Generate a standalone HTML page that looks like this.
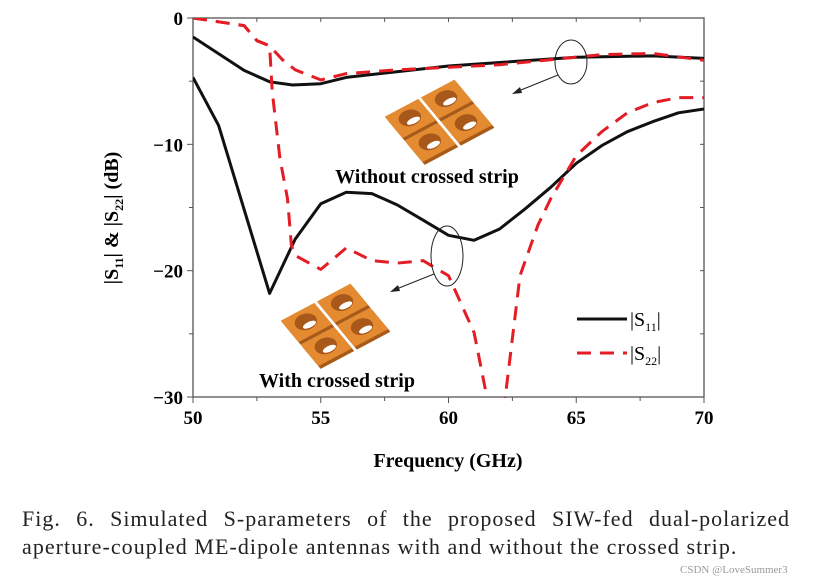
<!DOCTYPE html>
<html><head><meta charset="utf-8">
<style>
body{margin:0;background:#fff;width:813px;height:582px;overflow:hidden;font-family:"Liberation Serif",serif;position:relative}
svg text{font-family:"Liberation Serif",serif}
.cap{position:absolute;left:22px;width:768px;font-size:22px;letter-spacing:1px;line-height:28px;text-align:justify;text-align-last:justify;color:#222;white-space:nowrap}
</style></head>
<body>
<svg width="813" height="582" viewBox="0 0 813 582" style="position:absolute;left:0;top:0">
<defs><clipPath id="plotclip"><rect x="193" y="18" width="511" height="380"/></clipPath>
<g id="tile">
<rect x="0" y="4" width="38" height="32" fill="#a85a18"/>
<rect x="0" y="0" width="38" height="32" fill="#e48a30"/>
<ellipse cx="19" cy="15" rx="11" ry="10" fill="#a8581a"/>
<ellipse cx="20" cy="20" rx="7" ry="3.5" fill="#fff"/>
</g></defs>
<g id="plot"></g>
<text x="680" y="573" font-size="11" fill="#999" font-family="Liberation Sans">CSDN @LoveSummer3</text>
</svg>
<div class="cap" style="top:505px">Fig. 6. Simulated S-parameters of the proposed SIW-fed dual-polarized</div>
<div class="cap" style="top:533px;text-align-last:left;letter-spacing:1.05px">aperture-coupled ME-dipole antennas with and without the crossed strip.</div>
<script>
const s11WithoutF=[50,52,53,53.9,55,56,60,65,68,70];
const s11WithoutV=[-1.5,-4.15,-5.05,-5.3,-5.2,-4.7,-3.8,-3.1,-3.0,-3.2];
const s11WithF=[50,51,53,54,55,56,57,58,59,60,61,62,63,64,65,66,67,68,69,70];
const s11WithV=[-4.7,-8.5,-21.8,-17.5,-14.7,-13.8,-13.9,-14.8,-16.0,-17.2,-17.6,-16.7,-15.1,-13.4,-11.5,-10.1,-9.0,-8.2,-7.5,-7.2];
const s22WithoutF=[50,51,52,52.5,53,53.5,54,55,56,58,60,62,64,66,68,70];
const s22WithoutV=[0,-0.3,-0.6,-1.8,-2.2,-3.3,-4.1,-4.9,-4.4,-4.1,-3.9,-3.7,-3.3,-2.9,-2.8,-3.35];
const s22WithF=[50,51,52,52.5,53,53.1,53.4,53.7,53.85,54,55,56,57,58,59,60,61,61.7,62.1,62.8,63.5,64,65,66,67,68,69,70];
const s22WithV=[0,-0.3,-0.6,-1.8,-2.2,-5.8,-11.1,-14.3,-18,-18.8,-19.9,-18.2,-19.2,-19.4,-19.2,-20.4,-24.9,-32,-32,-20.4,-16.4,-14.3,-10.9,-9.0,-7.5,-6.7,-6.3,-6.3];
const xTicks=[50,55,60,65,70];
const yTicks=[0,-10,-20,-30];
const NS='http://www.w3.org/2000/svg';
const X0=193,X1=704,Y0=18,Y1=397;
const xs=f=>X0+(f-50)/20*(X1-X0);
const ys=v=>Y0+(-v)/30*(Y1-Y0);
const g=document.getElementById('plot');
function mk(t,a,p){const e=document.createElementNS(NS,t);for(const k in a)e.setAttribute(k,a[k]);(p||g).appendChild(e);return e;}
const fr=mk('rect',{x:X0,y:Y0,width:X1-X0,height:Y1-Y0,fill:'none',stroke:'#555','stroke-width':1.3});


for(let f=50;f<=70;f+=2.5){const maj=f%5===0;
 const t=mk('line',{x1:xs(f),x2:xs(f),y1:Y1,y2:Y1+(maj?6:4),stroke:'#555'});
 
 
 mk('line',{x1:xs(f),x2:xs(f),y1:Y0,y2:Y0+4,stroke:'#555'});}
for(let v=0;v>=-30;v-=5){const maj=v%10===0;
 const t=mk('line',{x1:X0-(maj?6:4),x2:X0,y1:ys(v),y2:ys(v),stroke:'#555'});
 
 
 mk('line',{x1:X1-4,x2:X1,y1:ys(v),y2:ys(v),stroke:'#555'});}
xTicks.forEach(f=>{const t=mk('text',{x:xs(f),y:Y1+27,'text-anchor':'middle','font-size':19,'font-weight':'bold'});t.textContent=f;
 
 });
yTicks.forEach(v=>{const t=mk('text',{x:X0-10,y:ys(v)+7,'text-anchor':'end','font-size':19,'font-weight':'bold'});t.textContent=v===0?'0':'\u2212'+(-v);
 
 });
const xl=mk('text',{x:448,y:467,'text-anchor':'middle','font-size':20,'font-weight':'bold'});xl.textContent='Frequency (GHz)';


const yl=mk('text',{x:0,y:0,'text-anchor':'middle','font-size':20,'font-weight':'bold',transform:'translate(118,218) rotate(-90)'});
yl.innerHTML='|S<tspan font-size="12" dy="5">11</tspan><tspan dy="-5">| &amp; |S</tspan><tspan font-size="12" dy="5">22</tspan><tspan dy="-5">| (dB)</tspan>';


function tiles(cx,cy,name){const tg=mk('g',{transform:`translate(${cx},${cy}) rotate(-28) scale(1,0.85) skewX(10) translate(-40,-36)`});
 
 
 [[0,0],[41,0],[0,36],[41,36]].forEach(o=>mk('use',{href:'#tile',x:o[0],y:o[1]},tg));}
tiles(440,122,'inset-without-strip');
tiles(336,326,'inset-with-strip');
const cg=mk('g',{'clip-path':'url(#plotclip)'});
function series(F,V,dash,col,name){const d=F.map((f,i)=>(i?'L':'M')+xs(f).toFixed(1)+','+ys(V[i]).toFixed(1)).join('');
 const p=mk('path',{d:d,fill:'none',stroke:col,'stroke-width':3,'stroke-dasharray':dash,'stroke-linejoin':'round'},cg);
 
 }
series(s11WithoutF,s11WithoutV,'none','#111','s11-without-strip');
series(s11WithF,s11WithV,'none','#111','s11-with-strip');
series(s22WithoutF,s22WithoutV,'14 9','#e41c24','s22-without-strip');
series(s22WithF,s22WithV,'14 9','#e41c24','s22-with-strip');
const e1=mk('ellipse',{cx:571,cy:62,rx:16,ry:22,fill:'none',stroke:'#222','stroke-width':1});


const e2=mk('ellipse',{cx:447,cy:256,rx:16,ry:30,fill:'none',stroke:'#222','stroke-width':1});


mk('line',{x1:558,y1:75,x2:516,y2:92,stroke:'#222'});mk('polygon',{points:'512,94 520,87 522,93',fill:'#222'});
mk('line',{x1:434,y1:274,x2:394,y2:290,stroke:'#222'});mk('polygon',{points:'390,292 398,285 400,291',fill:'#222'});
const t1=mk('text',{x:427,y:183,'text-anchor':'middle','font-size':20,'font-weight':'bold'});t1.textContent='Without crossed strip';


const t2=mk('text',{x:337,y:387,'text-anchor':'middle','font-size':20,'font-weight':'bold'});t2.textContent='With crossed strip';


const lg=mk('g',{});


mk('line',{x1:577,x2:627,y1:319,y2:319,stroke:'#111','stroke-width':3},lg);
mk('line',{x1:577,x2:627,y1:353,y2:353,stroke:'#e41c24','stroke-width':3,'stroke-dasharray':'14 9'},lg);
const l1=mk('text',{x:630,y:326,'font-size':20},lg);l1.innerHTML='|S<tspan font-size="12" dy="5">11</tspan><tspan dy="-5">|</tspan>';


const l2=mk('text',{x:630,y:360,'font-size':20},lg);l2.innerHTML='|S<tspan font-size="12" dy="5">22</tspan><tspan dy="-5">|</tspan>';


</script>
</body></html>
